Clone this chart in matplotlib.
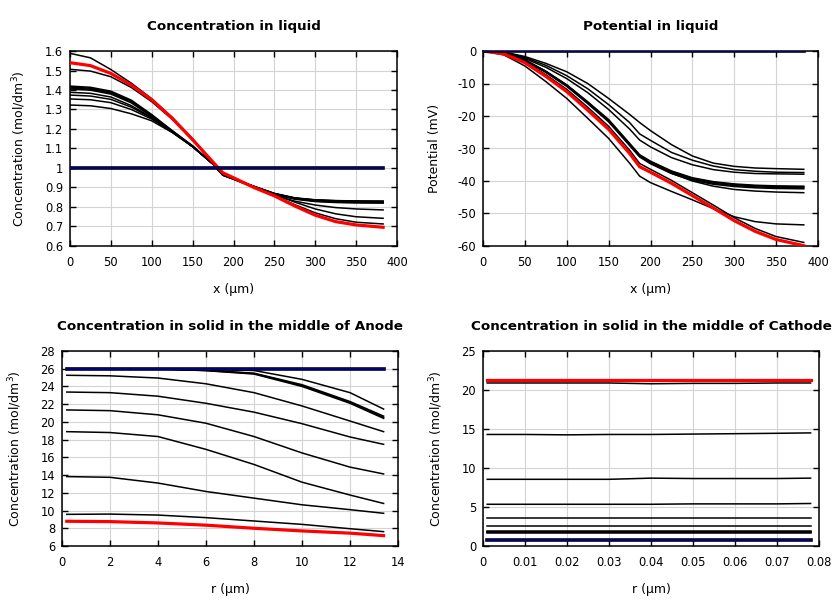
import numpy as np
import matplotlib
matplotlib.use("Agg")
import matplotlib.pyplot as plt
from matplotlib.ticker import FormatStrFormatter, MultipleLocator

plt.rcParams['font.family'] = 'DejaVu Sans'
plt.rcParams['axes.unicode_minus'] = False

# ---------------------------------------------------------------
# Liquid phase: position across the cell (um)
# ---------------------------------------------------------------
x_liq = [0, 25, 50, 75, 100, 125, 150, 175, 187, 200, 225, 250, 275, 300, 325, 350, 383]

c_liq_init = [1.0] * len(x_liq)
c_liq_final = [1.54, 1.525, 1.485, 1.425, 1.35, 1.255, 1.145, 1.03, 0.975, 0.95, 0.90, 0.857, 0.805, 0.758, 0.725, 0.708, 0.696]
c_liq_snaps = [
    [1.588, 1.565, 1.505, 1.435, 1.355, 1.26, 1.15, 1.03, 0.97, 0.947, 0.90, 0.858, 0.812, 0.77, 0.74, 0.722, 0.713],
    [1.506, 1.497, 1.468, 1.413, 1.34, 1.25, 1.143, 1.03, 0.972, 0.948, 0.905, 0.865, 0.825, 0.79, 0.765, 0.75, 0.742],
    [1.42, 1.414, 1.394, 1.348, 1.274, 1.192, 1.114, 1.02, 0.965, 0.945, 0.905, 0.868, 0.843, 0.832, 0.828, 0.826, 0.825],
    [1.415, 1.409, 1.389, 1.343, 1.270, 1.190, 1.112, 1.02, 0.964, 0.944, 0.904, 0.867, 0.842, 0.830, 0.825, 0.823, 0.822],
    [1.41, 1.404, 1.384, 1.338, 1.267, 1.188, 1.110, 1.02, 0.963, 0.943, 0.903, 0.866, 0.840, 0.828, 0.823, 0.821, 0.820],
    [1.405, 1.399, 1.379, 1.334, 1.264, 1.186, 1.109, 1.02, 0.963, 0.942, 0.900, 0.860, 0.830, 0.810, 0.797, 0.790, 0.785],
    [1.388, 1.383, 1.364, 1.320, 1.259, 1.186, 1.110, 1.02, 0.964, 0.944, 0.905, 0.868, 0.845, 0.834, 0.830, 0.828, 0.827],
    [1.374, 1.369, 1.352, 1.312, 1.256, 1.185, 1.110, 1.02, 0.964, 0.944, 0.905, 0.868, 0.845, 0.835, 0.831, 0.829, 0.828],
    [1.354, 1.350, 1.335, 1.300, 1.251, 1.184, 1.110, 1.02, 0.965, 0.945, 0.905, 0.869, 0.846, 0.836, 0.832, 0.830, 0.829],
    [1.323, 1.319, 1.305, 1.278, 1.242, 1.182, 1.109, 1.02, 0.965, 0.945, 0.906, 0.870, 0.847, 0.837, 0.833, 0.831, 0.830],
]

phi_init = [0.0] * len(x_liq)
phi_final = [0, -0.9, -3.6, -7.8, -12.5, -18.2, -24.1, -31.5, -35.6, -37.3, -40.7, -44.5, -48.3, -52.2, -55.5, -58.0, -59.9]
phi_snaps = [
    [0, -0.3, -1.7, -3.8, -6.4, -10.0, -14.6, -19.5, -22.0, -24.5, -28.8, -32.3, -34.5, -35.5, -36.0, -36.2, -36.4],
    [0, -0.4, -2.0, -4.4, -7.6, -11.6, -16.5, -22.0, -25.5, -27.5, -31.2, -33.6, -35.4, -36.5, -37.0, -37.3, -37.4],
    [0, -0.5, -2.3, -5.0, -8.5, -12.8, -18.0, -24.0, -27.4, -29.5, -32.8, -35.0, -36.5, -37.3, -37.7, -37.8, -37.9],
    [0, -0.6, -2.7, -6.2, -10.4, -15.6, -21.1, -28.4, -31.9, -33.9, -36.9, -39.0, -40.2, -40.9, -41.3, -41.5, -41.6],
    [0, -0.6, -2.8, -6.3, -10.5, -15.8, -21.3, -28.6, -32.1, -34.1, -37.1, -39.2, -40.4, -41.1, -41.5, -41.7, -41.8],
    [0, -0.65, -2.9, -6.4, -10.7, -16.0, -21.5, -28.8, -32.3, -34.4, -37.4, -39.5, -40.7, -41.4, -41.8, -42.0, -42.1],
    [0, -0.7, -3.0, -6.6, -10.9, -16.2, -21.8, -29.1, -32.6, -34.7, -37.7, -39.8, -41.0, -41.7, -42.1, -42.3, -42.4],
    [0, -0.6, -2.8, -6.3, -10.6, -15.9, -21.5, -28.7, -32.2, -34.4, -37.6, -40.0, -41.6, -42.6, -43.1, -43.4, -43.6],
    [0, -0.8, -3.3, -7.3, -11.8, -17.3, -23.2, -30.5, -34.6, -36.4, -39.8, -43.6, -47.4, -51.3, -54.6, -57.1, -58.9],
    [0, -1.2, -4.6, -9.4, -14.6, -20.7, -26.9, -34.5, -38.5, -40.5, -43.2, -45.8, -48.5, -51.0, -52.5, -53.2, -53.5],
]

# ---------------------------------------------------------------
# Solid phase, anode particle radius (um)
# ---------------------------------------------------------------
r_an = [0.2, 2, 4, 6, 8, 10, 12, 13.4]
cs_an_init = [26.0] * len(r_an)
cs_an_final = [8.79, 8.75, 8.6, 8.35, 8.0, 7.7, 7.45, 7.17]
cs_an_snaps = [
    [26.0, 26.0, 26.0, 25.95, 25.8, 24.8, 23.3, 21.45],
    [26.0, 26.0, 26.0, 25.85, 25.5, 24.2, 22.3, 20.65],
    [26.0, 26.0, 26.0, 25.8, 25.45, 24.1, 22.2, 20.5],
    [26.0, 26.0, 25.98, 25.78, 25.4, 24.0, 22.1, 20.4],
    [25.26, 25.2, 24.95, 24.3, 23.3, 21.8, 20.1, 18.9],
    [23.37, 23.3, 22.9, 22.1, 21.1, 19.8, 18.3, 17.47],
    [21.35, 21.27, 20.8, 19.85, 18.35, 16.5, 14.9, 14.13],
    [18.9, 18.8, 18.35, 16.9, 15.2, 13.2, 11.75, 10.8],
    [13.83, 13.75, 13.1, 12.15, 11.4, 10.65, 10.1, 9.69],
    [9.57, 9.6, 9.49, 9.2, 8.82, 8.44, 7.95, 7.62],
]

# ---------------------------------------------------------------
# Solid phase, cathode particle radius (um)
# ---------------------------------------------------------------
r_ca = [0.001, 0.01, 0.02, 0.03, 0.04, 0.05, 0.06, 0.07, 0.078]
cs_ca_init = [0.77] * len(r_ca)
cs_ca_final = [21.22, 21.22, 21.22, 21.22, 21.22, 21.22, 21.22, 21.22, 21.22]
cs_ca_snaps = [
    [20.9, 20.9, 20.9, 20.9, 20.8, 20.85, 20.85, 20.9, 20.9],
    [14.3, 14.3, 14.25, 14.3, 14.3, 14.35, 14.4, 14.45, 14.5],
    [8.55, 8.55, 8.55, 8.55, 8.7, 8.65, 8.65, 8.65, 8.7],
    [5.35, 5.35, 5.35, 5.35, 5.35, 5.4, 5.4, 5.4, 5.45],
    [3.55, 3.55, 3.55, 3.55, 3.55, 3.55, 3.55, 3.55, 3.55],
    [2.55, 2.55, 2.55, 2.55, 2.55, 2.55, 2.55, 2.55, 2.55],
    [1.98, 1.98, 1.98, 1.98, 1.98, 1.98, 1.98, 1.98, 1.98],
    [1.85, 1.85, 1.85, 1.85, 1.85, 1.85, 1.85, 1.85, 1.85],
    [1.75, 1.75, 1.75, 1.75, 1.75, 1.75, 1.75, 1.75, 1.75],
    [1.65, 1.65, 1.65, 1.65, 1.65, 1.65, 1.65, 1.65, 1.65],
]

CONC_LABEL = 'Concentration (mol/dm$^3$)'


def draw_panel(ax, xs, init, snaps, final, title, xlabel, ylabel,
               xlim, xstep, ylim, ystep, fmt='%g'):
    for ys in snaps:
        ax.plot(xs, ys, color='black', lw=1.1, zorder=3)
    ax.plot(xs, final, color='red', lw=2.3, zorder=4)
    ax.plot(xs, init, color='black', lw=2.6, zorder=5)
    ax.plot(xs, init, color='#00009a', lw=1.2, zorder=6)

    ax.set_xlim(*xlim)
    ax.set_ylim(*ylim)
    ax.xaxis.set_major_locator(MultipleLocator(xstep))
    ax.yaxis.set_major_locator(MultipleLocator(ystep))
    ax.xaxis.set_major_formatter(FormatStrFormatter(fmt))
    ax.yaxis.set_major_formatter(FormatStrFormatter('%g'))
    ax.tick_params(direction='in', top=True, right=True, length=4.5,
                   width=1, labelsize=8.3, pad=5)
    ax.tick_params(axis='x', pad=7)
    ax.grid(True, color='#d4d4d4', lw=0.8, zorder=0)
    for s in ax.spines.values():
        s.set_linewidth(1.1)
    ax.set_title(title, fontsize=9.7, fontweight='bold', pad=15)
    ax.set_xlabel(xlabel, fontsize=9, labelpad=10)
    ax.set_ylabel(ylabel, fontsize=9, labelpad=12)


fig = plt.figure(figsize=(8.4, 6.0), dpi=100)
ax1 = fig.add_axes([70/840, 1 - 246/600, 327/840, 195/600])
ax2 = fig.add_axes([483/840, 1 - 246/600, 335/840, 195/600])
ax3 = fig.add_axes([62/840, 1 - 546/600, 336/840, 195/600])
ax4 = fig.add_axes([483/840, 1 - 546/600, 336/840, 195/600])

draw_panel(ax1, x_liq, c_liq_init, c_liq_snaps, c_liq_final,
           'Concentration in liquid', 'x (µm)', CONC_LABEL,
           (0, 400), 50, (0.6, 1.6), 0.1)
draw_panel(ax2, x_liq, phi_init, phi_snaps, phi_final,
           'Potential in liquid', 'x (µm)', 'Potential (mV)',
           (0, 400), 50, (-60, 0), 10)
draw_panel(ax3, r_an, cs_an_init, cs_an_snaps, cs_an_final,
           'Concentration in solid in the middle of Anode', 'r (µm)', CONC_LABEL,
           (0, 14), 2, (6, 28), 2)
draw_panel(ax4, r_ca, cs_ca_init, cs_ca_snaps, cs_ca_final,
           'Concentration in solid in the middle of Cathode', 'r (µm)', CONC_LABEL,
           (0, 0.08), 0.01, (0, 25), 5)

fig.savefig('out.png', dpi=100)
